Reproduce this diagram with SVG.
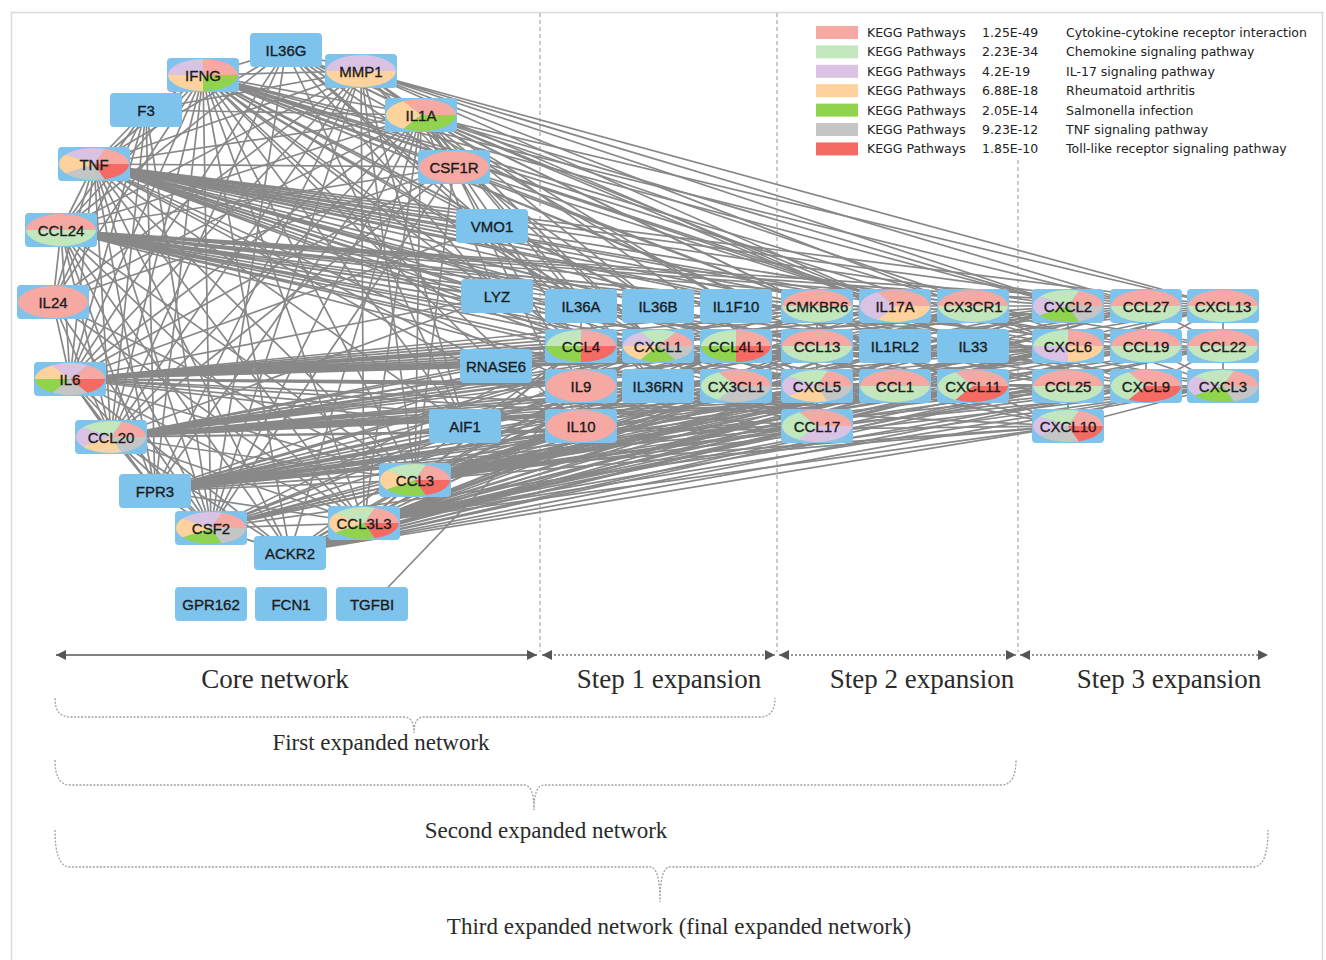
<svg xmlns="http://www.w3.org/2000/svg" xmlns:xlink="http://www.w3.org/1999/xlink" width="1326" height="960" viewBox="0 0 1326 960">
<style>
.e{fill:none;stroke:#888;stroke-width:1.7;stroke-linejoin:round}
.box{fill:#7EC3EC}
.n text{font-family:"Liberation Sans",Arial,sans-serif;font-size:15px;fill:#1c1c1c;stroke:#1c1c1c;stroke-width:0.35;text-anchor:middle}
.pk{fill:#F6A8A3}.lg{fill:#C2E7BC}.lv{fill:#D9C2E3}.or{fill:#FDD29D}.gn{fill:#8FD44C}.gy{fill:#C5C5C5}.rd{fill:#F56B63}
.lgd text{font-family:"DejaVu Sans",sans-serif;font-size:12.5px;fill:#222}
.cap{font-family:"Liberation Serif","Times New Roman",serif;fill:#2a2a2a;text-anchor:middle}
.sep{stroke:#a8a8a8;stroke-width:1.2;stroke-dasharray:4 3;fill:none}
.brace{fill:none;stroke:#a0a0a0;stroke-width:1.3;stroke-dasharray:2 1.5}
.ax{fill:none;stroke:#555;stroke-width:1.5}
.axd{fill:none;stroke:#777;stroke-width:1.5;stroke-dasharray:2 2}
</style>
<defs>
<marker id="ah" viewBox="0 0 10 10" refX="10" refY="5" markerWidth="10" markerHeight="10" markerUnits="userSpaceOnUse" orient="auto-start-reverse"><path d="M0 0L10 5L0 10Z" fill="#555"/></marker>
<path id="hT" d="M35 0A35 16 0 0 0 -35 0Z"/>
<path id="hB" d="M-35 0A35 16 0 0 0 35 0Z"/>
<path id="q1" d="M0 0L35 0A35 16 0 0 0 0 -16Z"/>
<path id="q2" d="M0 0L0 -16A35 16 0 0 0 -35 0Z"/>
<path id="q3" d="M0 0L-35 0A35 16 0 0 0 0 16Z"/>
<path id="q4" d="M0 0L0 16A35 16 0 0 0 35 0Z"/>
<path id="t1" d="M0 0L35 0A35 16 0 0 0 -17.5 -13.86Z"/>
<path id="t2" d="M0 0L-17.5 -13.86A35 16 0 0 0 -17.5 13.86Z"/>
<path id="t3" d="M0 0L-17.5 13.86A35 16 0 0 0 35 0Z"/>
<path id="f1" d="M0 0L35 0A35 16 0 0 0 10.82 -15.22Z"/>
<path id="f2" d="M0 0L10.82 -15.22A35 16 0 0 0 -28.32 -9.4Z"/>
<path id="f3" d="M0 0L-28.32 -9.4A35 16 0 0 0 -28.32 9.4Z"/>
<path id="f4" d="M0 0L-28.32 9.4A35 16 0 0 0 10.82 15.22Z"/>
<path id="f5" d="M0 0L10.82 15.22A35 16 0 0 0 35 0Z"/>
<path id="x1" d="M0 0L35 0A35 16 0 0 0 17.5 -13.86Z"/>
<path id="x2" d="M0 0L17.5 -13.86A35 16 0 0 0 -17.5 -13.86Z"/>
<path id="x3" d="M0 0L-17.5 -13.86A35 16 0 0 0 -35 0Z"/>
<path id="x4" d="M0 0L-35 0A35 16 0 0 0 -17.5 13.86Z"/>
<path id="x5" d="M0 0L-17.5 13.86A35 16 0 0 0 17.5 13.86Z"/>
<path id="x6" d="M0 0L17.5 13.86A35 16 0 0 0 35 0Z"/>
<g id="p-p"><ellipse rx="35" ry="16" class="pk"/></g>
<g id="p-pg"><use href="#hT" class="pk"/><use href="#hB" class="lg"/></g>
<g id="p-lo"><use href="#hT" class="lv"/><use href="#hB" class="or"/></g>
<g id="p-ifng"><use href="#q1" class="pk"/><use href="#q2" class="lv"/><use href="#q3" class="or"/><use href="#q4" class="gn"/></g>
<g id="p-ccl4"><use href="#q1" class="pk"/><use href="#q2" class="lg"/><use href="#q3" class="gn"/><use href="#q4" class="rd"/></g>
<g id="p-cxcl6"><use href="#q1" class="pk"/><use href="#q2" class="lg"/><use href="#q3" class="lv"/><use href="#q4" class="or"/></g>
<g id="p-il1a"><use href="#t1" class="pk"/><use href="#t2" class="or"/><use href="#t3" class="gn"/></g>
<g id="p-il17a"><use href="#t1" class="pk"/><use href="#t2" class="lv"/><use href="#t3" class="or"/></g>
<g id="p-cx3cl1"><use href="#t1" class="pk"/><use href="#t2" class="lg"/><use href="#t3" class="gy"/></g>
<g id="p-cxcl11"><use href="#t1" class="pk"/><use href="#t2" class="lg"/><use href="#t3" class="rd"/></g>
<g id="p-ccl17"><use href="#t1" class="pk"/><use href="#t2" class="lg"/><use href="#t3" class="lv"/></g>
<g id="p-tnf"><use href="#f1" class="pk"/><use href="#f2" class="lv"/><use href="#f3" class="or"/><use href="#f4" class="gy"/><use href="#f5" class="rd"/></g>
<g id="p-ccl20"><use href="#f1" class="pk"/><use href="#f2" class="lg"/><use href="#f3" class="lv"/><use href="#f4" class="or"/><use href="#f5" class="gy"/></g>
<g id="p-ccl3"><use href="#f1" class="pk"/><use href="#f2" class="lg"/><use href="#f3" class="or"/><use href="#f4" class="gn"/><use href="#f5" class="rd"/></g>
<g id="p-csf2"><use href="#f1" class="pk"/><use href="#f2" class="lv"/><use href="#f3" class="or"/><use href="#f4" class="gn"/><use href="#f5" class="gy"/></g>
<g id="p-cxcl2"><use href="#f1" class="pk"/><use href="#f2" class="lg"/><use href="#f3" class="lv"/><use href="#f4" class="gn"/><use href="#f5" class="gy"/></g>
<g id="p-cxcl10"><use href="#f1" class="pk"/><use href="#f2" class="lg"/><use href="#f3" class="lv"/><use href="#f4" class="gy"/><use href="#f5" class="rd"/></g>
<g id="p-il6"><use href="#x1" class="pk"/><use href="#x2" class="lv"/><use href="#x3" class="or"/><use href="#x4" class="gn"/><use href="#x5" class="gy"/><use href="#x6" class="rd"/></g>
<g id="p-cxcl1"><use href="#x1" class="pk"/><use href="#x2" class="lg"/><use href="#x3" class="lv"/><use href="#x4" class="or"/><use href="#x5" class="gn"/><use href="#x6" class="gy"/></g>
<rect id="bx" class="box" x="-36" y="-17" width="72" height="34" rx="4"/>
</defs>
<rect x="0" y="0" width="1326" height="960" fill="#fff"/>
<rect x="11.5" y="12.5" width="1311" height="960" fill="none" stroke="#d9d9d9" stroke-width="1.5"/>
<g id="separators">
<path class="sep" d="M540 13V652M777 13V652M1018 160V652"/>
</g>
<g id="connectors">
<path class="e" d="M146 110L94 164L203 75M286 50L94 164L361 71M421 115L94 164L454 167M492 226L94 164L497 296M496 366L94 164L465 426M415 480L94 164L364 523M290 553L94 164L211 528M155 491L94 164L111 437M70 379L94 164L53 302M61 230L94 164"/>
<path class="e" d="M146 110L70 379L203 75M286 50L70 379L361 71M421 115L70 379L454 167M492 226L70 379L497 296M496 366L70 379L465 426M415 480L70 379L364 523M290 553L70 379L211 528M155 491L70 379L111 437M53 302L70 379L61 230"/>
<path class="e" d="M146 110L203 75L286 50M361 71L203 75L421 115M454 167L203 75L492 226M497 296L203 75L496 366M465 426L203 75L415 480M364 523L203 75L211 528M155 491L203 75L111 437M53 302L203 75L61 230M290 553L203 75"/>
<path class="e" d="M286 50L111 437L361 71M421 115L111 437L454 167M497 296L111 437L415 480M364 523L111 437L290 553M211 528L111 437L155 491M61 230L111 437L53 302M146 110L111 437"/>
<path class="e" d="M361 71L61 230L421 115M454 167L61 230L415 480M364 523L61 230L290 553M211 528L61 230L155 491M53 302L61 230L146 110M286 50L61 230"/>
<path class="e" d="M454 167L421 115L415 480M364 523L421 115L211 528M155 491L421 115L53 302M361 71L421 115L286 50M497 296L421 115L146 110M290 553L421 115"/>
<path class="e" d="M415 480L361 71L364 523M211 528L361 71L53 302M454 167L361 71L465 426M146 110L361 71L155 491M286 50L361 71"/>
<path class="e" d="M415 480L211 528L364 523M454 167L211 528L53 302M155 491L211 528L286 50M290 553L211 528"/>
<path class="e" d="M364 523L415 480L290 553M155 491L415 480L454 167M53 302L415 480"/>
<path class="e" d="M290 553L364 523L155 491M53 302L364 523M454 167L53 302L146 110M211 528L146 110L155 491M497 296L286 50L465 426"/>
<path class="e" d="M817 306L94 164L973 306M1068 306L94 164L1146 306M1223 306L94 164L581 346M658 346L94 164L736 346M817 346L94 164L1068 346M1146 346L94 164L1223 346M736 386L94 164L817 386M895 386L94 164L973 386M1068 386L94 164L1146 386M1223 386L94 164L817 426M1068 426L94 164"/>
<path class="e" d="M817 306L61 230L973 306M1068 306L61 230L1146 306M1223 306L61 230L581 346M658 346L61 230L736 346M817 346L61 230L1068 346M1146 346L61 230L1223 346M736 386L61 230L817 386M895 386L61 230L973 386M1068 386L61 230L1146 386M1223 386L61 230L817 426M1068 426L61 230"/>
<path class="e" d="M817 306L70 379L973 306M1068 306L70 379L1146 306M1223 306L70 379L581 346M658 346L70 379L736 346M817 346L70 379L1068 346M1146 346L70 379L1223 346M736 386L70 379L817 386M895 386L70 379L973 386M1068 386L70 379L1146 386M1223 386L70 379L817 426M1068 426L70 379"/>
<path class="e" d="M817 306L111 437L973 306M1068 306L111 437L1146 306M1223 306L111 437L581 346M658 346L111 437L736 346M817 346L111 437L1068 346M1146 346L111 437L1223 346M736 386L111 437L817 386M895 386L111 437L973 386M1068 386L111 437L1146 386M1223 386L111 437L817 426M1068 426L111 437"/>
<path class="e" d="M817 306L155 491L973 306M1068 306L155 491L1146 306M1223 306L155 491L581 346M658 346L155 491L736 346M817 346L155 491L1068 346M1146 346L155 491L1223 346M736 386L155 491L817 386M895 386L155 491L973 386M1068 386L155 491L1146 386M1223 386L155 491L817 426M1068 426L155 491"/>
<path class="e" d="M817 306L415 480L973 306M1068 306L415 480L1146 306M1223 306L415 480L581 346M658 346L415 480L736 346M817 346L415 480L1068 346M1146 346L415 480L1223 346M736 386L415 480L817 386M895 386L415 480L973 386M1068 386L415 480L1146 386M1223 386L415 480L817 426M1068 426L415 480"/>
<path class="e" d="M817 306L364 523L973 306M1068 306L364 523L1146 306M1223 306L364 523L581 346M658 346L364 523L736 346M817 346L364 523L1068 346M1146 346L364 523L1223 346M736 386L364 523L817 386M895 386L364 523L973 386M1068 386L364 523L1146 386M1223 386L364 523L817 426M1068 426L364 523"/>
<path class="e" d="M817 306L290 553L973 306M1068 306L290 553L1146 306M1223 306L290 553L581 346M658 346L290 553L736 346M817 346L290 553L1068 346M1146 346L290 553L1223 346M736 386L290 553L817 386M895 386L290 553L973 386M1068 386L290 553L1146 386M1223 386L290 553L817 426M1068 426L290 553"/>
<path class="e" d="M817 306L203 75L973 306M1068 306L203 75L1146 306M581 346L203 75L658 346M736 346L203 75L736 386M817 386L203 75L973 386M1146 386L203 75L1068 426M895 306L203 75L581 426M1068 346L203 75"/>
<path class="e" d="M1146 306L361 71L1223 306M658 346L361 71L817 386M1068 306L361 71L1068 346M895 306L361 71"/>
<path class="e" d="M581 306L421 115L658 306M736 306L421 115L895 346M973 346L421 115L658 386M895 306L421 115L581 346M658 346L421 115L1068 306M1223 306L421 115L1223 386"/>
<path class="e" d="M581 306L286 50L658 306M736 306L286 50L895 346M658 386L286 50L973 346"/>
<path class="e" d="M581 386L454 167L581 426M895 306L454 167L817 306"/>
<path class="e" d="M895 306L211 528L581 386M581 426L211 528L658 346M581 346L211 528L817 386M1068 306L211 528L1223 386M895 386L211 528L1068 346"/>
<path class="e" d="M895 306L94 164L581 426M581 386L94 164L973 346M895 306L70 379L581 386M581 426L70 379L973 346M895 346L70 379M895 306L111 437"/>
<path class="e" d="M372 604L581 386"/>
<path class="e" d="M581 306L1223 306M581 346L1223 346M581 386L1223 386M1068 306L1068 426M817 306L817 426M581 306L581 426M1146 306L1223 346M1223 306L1146 346M1146 346L1223 386M1223 346L1146 386M1223 306L1223 386M1146 306L1146 386M1068 426L1223 386M1068 426L1146 386"/>
</g>
<g id="nodes">
<g id="n-F3" class="n" transform="translate(146 110)"><use href="#bx"/><text y="5.5">F3</text></g>
<g id="n-IFNG" class="n" transform="translate(203 75)"><use href="#bx"/><use href="#p-ifng"/><text y="5.5">IFNG</text></g>
<g id="n-IL36G" class="n" transform="translate(286 50)"><use href="#bx"/><text y="5.5">IL36G</text></g>
<g id="n-MMP1" class="n" transform="translate(361 71)"><use href="#bx"/><use href="#p-lo"/><text y="5.5">MMP1</text></g>
<g id="n-IL1A" class="n" transform="translate(421 115)"><use href="#bx"/><use href="#p-il1a"/><text y="5.5">IL1A</text></g>
<g id="n-CSF1R" class="n" transform="translate(454 167)"><use href="#bx"/><use href="#p-p"/><text y="5.5">CSF1R</text></g>
<g id="n-VMO1" class="n" transform="translate(492 226)"><use href="#bx"/><text y="5.5">VMO1</text></g>
<g id="n-LYZ" class="n" transform="translate(497 296)"><use href="#bx"/><text y="5.5">LYZ</text></g>
<g id="n-RNASE6" class="n" transform="translate(496 366)"><use href="#bx"/><text y="5.5">RNASE6</text></g>
<g id="n-AIF1" class="n" transform="translate(465 426)"><use href="#bx"/><text y="5.5">AIF1</text></g>
<g id="n-CCL3" class="n" transform="translate(415 480)"><use href="#bx"/><use href="#p-ccl3"/><text y="5.5">CCL3</text></g>
<g id="n-CCL3L3" class="n" transform="translate(364 523)"><use href="#bx"/><use href="#p-ccl3"/><text y="5.5">CCL3L3</text></g>
<g id="n-ACKR2" class="n" transform="translate(290 553)"><use href="#bx"/><text y="5.5">ACKR2</text></g>
<g id="n-CSF2" class="n" transform="translate(211 528)"><use href="#bx"/><use href="#p-csf2"/><text y="5.5">CSF2</text></g>
<g id="n-FPR3" class="n" transform="translate(155 491)"><use href="#bx"/><text y="5.5">FPR3</text></g>
<g id="n-CCL20" class="n" transform="translate(111 437)"><use href="#bx"/><use href="#p-ccl20"/><text y="5.5">CCL20</text></g>
<g id="n-IL6" class="n" transform="translate(70 379)"><use href="#bx"/><use href="#p-il6"/><text y="5.5">IL6</text></g>
<g id="n-IL24" class="n" transform="translate(53 302)"><use href="#bx"/><use href="#p-p"/><text y="5.5">IL24</text></g>
<g id="n-CCL24" class="n" transform="translate(61 230)"><use href="#bx"/><use href="#p-pg"/><text y="5.5">CCL24</text></g>
<g id="n-TNF" class="n" transform="translate(94 164)"><use href="#bx"/><use href="#p-tnf"/><text y="5.5">TNF</text></g>
<g id="n-GPR162" class="n" transform="translate(211 604)"><use href="#bx"/><text y="5.5">GPR162</text></g>
<g id="n-FCN1" class="n" transform="translate(291 604)"><use href="#bx"/><text y="5.5">FCN1</text></g>
<g id="n-TGFBI" class="n" transform="translate(372 604)"><use href="#bx"/><text y="5.5">TGFBI</text></g>
<g id="n-IL36A" class="n" transform="translate(581 306)"><use href="#bx"/><text y="5.5">IL36A</text></g>
<g id="n-IL36B" class="n" transform="translate(658 306)"><use href="#bx"/><text y="5.5">IL36B</text></g>
<g id="n-IL1F10" class="n" transform="translate(736 306)"><use href="#bx"/><text y="5.5">IL1F10</text></g>
<g id="n-CMKBR6" class="n" transform="translate(817 306)"><use href="#bx"/><use href="#p-pg"/><text y="5.5">CMKBR6</text></g>
<g id="n-IL17A" class="n" transform="translate(895 306)"><use href="#bx"/><use href="#p-il17a"/><text y="5.5">IL17A</text></g>
<g id="n-CX3CR1" class="n" transform="translate(973 306)"><use href="#bx"/><use href="#p-pg"/><text y="5.5">CX3CR1</text></g>
<g id="n-CXCL2" class="n" transform="translate(1068 306)"><use href="#bx"/><use href="#p-cxcl2"/><text y="5.5">CXCL2</text></g>
<g id="n-CCL27" class="n" transform="translate(1146 306)"><use href="#bx"/><use href="#p-pg"/><text y="5.5">CCL27</text></g>
<g id="n-CXCL13" class="n" transform="translate(1223 306)"><use href="#bx"/><use href="#p-pg"/><text y="5.5">CXCL13</text></g>
<g id="n-CCL4" class="n" transform="translate(581 346)"><use href="#bx"/><use href="#p-ccl4"/><text y="5.5">CCL4</text></g>
<g id="n-CXCL1" class="n" transform="translate(658 346)"><use href="#bx"/><use href="#p-cxcl1"/><text y="5.5">CXCL1</text></g>
<g id="n-CCL4L1" class="n" transform="translate(736 346)"><use href="#bx"/><use href="#p-ccl4"/><text y="5.5">CCL4L1</text></g>
<g id="n-CCL13" class="n" transform="translate(817 346)"><use href="#bx"/><use href="#p-pg"/><text y="5.5">CCL13</text></g>
<g id="n-IL1RL2" class="n" transform="translate(895 346)"><use href="#bx"/><text y="5.5">IL1RL2</text></g>
<g id="n-IL33" class="n" transform="translate(973 346)"><use href="#bx"/><text y="5.5">IL33</text></g>
<g id="n-CXCL6" class="n" transform="translate(1068 346)"><use href="#bx"/><use href="#p-cxcl6"/><text y="5.5">CXCL6</text></g>
<g id="n-CCL19" class="n" transform="translate(1146 346)"><use href="#bx"/><use href="#p-pg"/><text y="5.5">CCL19</text></g>
<g id="n-CCL22" class="n" transform="translate(1223 346)"><use href="#bx"/><use href="#p-pg"/><text y="5.5">CCL22</text></g>
<g id="n-IL9" class="n" transform="translate(581 386)"><use href="#bx"/><use href="#p-p"/><text y="5.5">IL9</text></g>
<g id="n-IL36RN" class="n" transform="translate(658 386)"><use href="#bx"/><text y="5.5">IL36RN</text></g>
<g id="n-CX3CL1" class="n" transform="translate(736 386)"><use href="#bx"/><use href="#p-cx3cl1"/><text y="5.5">CX3CL1</text></g>
<g id="n-CXCL5" class="n" transform="translate(817 386)"><use href="#bx"/><use href="#p-ccl20"/><text y="5.5">CXCL5</text></g>
<g id="n-CCL1" class="n" transform="translate(895 386)"><use href="#bx"/><use href="#p-pg"/><text y="5.5">CCL1</text></g>
<g id="n-CXCL11" class="n" transform="translate(973 386)"><use href="#bx"/><use href="#p-cxcl11"/><text y="5.5">CXCL11</text></g>
<g id="n-CCL25" class="n" transform="translate(1068 386)"><use href="#bx"/><use href="#p-pg"/><text y="5.5">CCL25</text></g>
<g id="n-CXCL9" class="n" transform="translate(1146 386)"><use href="#bx"/><use href="#p-cxcl11"/><text y="5.5">CXCL9</text></g>
<g id="n-CXCL3" class="n" transform="translate(1223 386)"><use href="#bx"/><use href="#p-cxcl2"/><text y="5.5">CXCL3</text></g>
<g id="n-IL10" class="n" transform="translate(581 426)"><use href="#bx"/><use href="#p-p"/><text y="5.5">IL10</text></g>
<g id="n-CCL17" class="n" transform="translate(817 426)"><use href="#bx"/><use href="#p-ccl17"/><text y="5.5">CCL17</text></g>
<g id="n-CXCL10" class="n" transform="translate(1068 426)"><use href="#bx"/><use href="#p-cxcl10"/><text y="5.5">CXCL10</text></g>
</g>
<g id="legend" class="lgd">
<rect x="816" y="26" width="42" height="13" class="pk"/>
<rect x="816" y="45.4" width="42" height="13" class="lg"/>
<rect x="816" y="64.8" width="42" height="13" class="lv"/>
<rect x="816" y="84.2" width="42" height="13" class="or"/>
<rect x="816" y="103.6" width="42" height="13" class="gn"/>
<rect x="816" y="123" width="42" height="13" class="gy"/>
<rect x="816" y="142.4" width="42" height="13" class="rd"/>
<text x="867" y="37">KEGG Pathways</text><text x="982" y="37">1.25E-49</text><text x="1066" y="37">Cytokine-cytokine receptor interaction</text>
<text x="867" y="56.4">KEGG Pathways</text><text x="982" y="56.4">2.23E-34</text><text x="1066" y="56.4">Chemokine signaling pathway</text>
<text x="867" y="75.8">KEGG Pathways</text><text x="982" y="75.8">4.2E-19</text><text x="1066" y="75.8">IL-17 signaling pathway</text>
<text x="867" y="95.2">KEGG Pathways</text><text x="982" y="95.2">6.88E-18</text><text x="1066" y="95.2">Rheumatoid arthritis</text>
<text x="867" y="114.6">KEGG Pathways</text><text x="982" y="114.6">2.05E-14</text><text x="1066" y="114.6">Salmonella infection</text>
<text x="867" y="134">KEGG Pathways</text><text x="982" y="134">9.23E-12</text><text x="1066" y="134">TNF signaling pathway</text>
<text x="867" y="153.4">KEGG Pathways</text><text x="982" y="153.4">1.85E-10</text><text x="1066" y="153.4">Toll-like receptor signaling pathway</text>
</g>
<g id="axis">
<path class="ax" d="M56 655H537" marker-start="url(#ah)" marker-end="url(#ah)"/>
<path class="axd" d="M542 655H775" marker-start="url(#ah)" marker-end="url(#ah)"/>
<path class="axd" d="M779 655H1016" marker-start="url(#ah)" marker-end="url(#ah)"/>
<path class="axd" d="M1020 655H1268" marker-start="url(#ah)" marker-end="url(#ah)"/>
<text class="cap" x="275" y="688" font-size="27">Core network</text>
<text class="cap" x="669" y="688" font-size="27">Step 1 expansion</text>
<text class="cap" x="922" y="688" font-size="27">Step 2 expansion</text>
<text class="cap" x="1169" y="688" font-size="27">Step 3 expansion</text>
</g>
<g id="braces">
<path class="brace" d="M55 698Q55 717 70 717L404 717Q414 717 414 733Q414 717 424 717L760 717Q775 717 775 698"/>
<path class="brace" d="M55 760Q55 785 70 785L524 785Q534 785 534 810Q534 785 544 785L1001 785Q1016 785 1016 760"/>
<path class="brace" d="M55 830Q55 867 70 867L650 867Q660 867 660 902Q660 867 670 867L1253 867Q1268 867 1268 830"/>
<text class="cap" x="381" y="750" font-size="23">First expanded network</text>
<text class="cap" x="546" y="838" font-size="23">Second expanded network</text>
<text class="cap" x="679" y="934" font-size="23">Third expanded network (final expanded network)</text>
</g>
</svg>
